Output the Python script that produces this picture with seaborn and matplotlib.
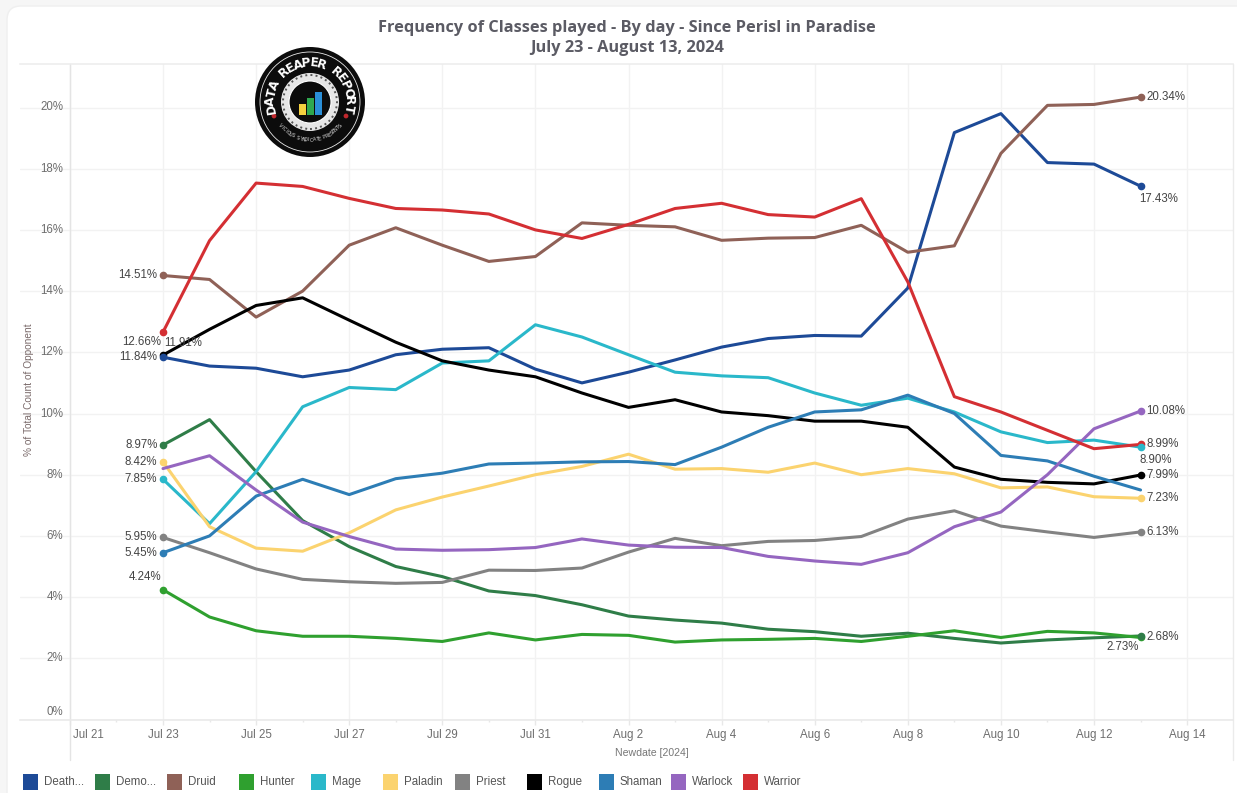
import numpy as np
import pandas as pd
import seaborn as sns
import matplotlib.pyplot as plt
import matplotlib.dates as mdates
from matplotlib.patches import Circle, FancyBboxPatch, Rectangle
from matplotlib.transforms import IdentityTransform

W, H = 1237, 793

days = pd.date_range("2024-07-23", "2024-08-13")

death_knight = [11.84, 11.55, 11.48, 11.2, 11.42, 11.92, 12.1, 12.15, 11.45, 11.0, 11.35, 11.75, 12.17, 12.45, 12.55, 12.53, 14.1, 19.18, 19.8, 18.2, 18.15, 17.43]
demon_hunter = [8.97, 9.8, 8.1, 6.5, 5.65, 5.0, 4.67, 4.2, 4.05, 3.75, 3.38, 3.25, 3.15, 2.95, 2.87, 2.72, 2.82, 2.65, 2.5, 2.6, 2.67, 2.73]
druid = [14.51, 14.38, 13.15, 14.0, 15.5, 16.07, 15.5, 14.97, 15.13, 16.23, 16.15, 16.1, 15.66, 15.73, 15.75, 16.15, 15.27, 15.48, 18.5, 20.07, 20.1, 20.34]
hunter = [4.24, 3.35, 2.9, 2.72, 2.72, 2.65, 2.55, 2.83, 2.6, 2.78, 2.75, 2.53, 2.6, 2.62, 2.65, 2.55, 2.72, 2.9, 2.68, 2.88, 2.83, 2.68]
mage = [7.85, 6.4, 8.1, 10.22, 10.85, 10.78, 11.65, 11.72, 12.9, 12.5, 11.92, 11.35, 11.23, 11.17, 10.67, 10.27, 10.5, 10.05, 9.4, 9.05, 9.13, 8.90]
paladin = [8.42, 6.3, 5.6, 5.5, 6.1, 6.85, 7.27, 7.63, 8.0, 8.27, 8.67, 8.18, 8.2, 8.08, 8.38, 8.0, 8.2, 8.03, 7.57, 7.6, 7.28, 7.23]
priest = [5.95, 5.45, 4.92, 4.58, 4.5, 4.45, 4.48, 4.88, 4.87, 4.95, 5.47, 5.92, 5.68, 5.82, 5.85, 5.98, 6.55, 6.82, 6.32, 6.13, 5.95, 6.13]
rogue = [11.91, 12.75, 13.53, 13.78, 13.05, 12.33, 11.72, 11.42, 11.2, 10.67, 10.2, 10.45, 10.05, 9.93, 9.75, 9.75, 9.55, 8.25, 7.85, 7.75, 7.7, 7.99]
shaman = [5.45, 6.0, 7.3, 7.85, 7.35, 7.87, 8.05, 8.35, 8.38, 8.42, 8.43, 8.33, 8.9, 9.55, 10.05, 10.12, 10.6, 10.0, 8.63, 8.45, 7.95, 7.5]
warlock = [8.2, 8.62, 7.5, 6.45, 5.98, 5.57, 5.53, 5.55, 5.62, 5.9, 5.7, 5.63, 5.62, 5.33, 5.18, 5.07, 5.45, 6.3, 6.78, 8.0, 9.5, 10.08]
warrior = [12.66, 15.65, 17.53, 17.42, 17.03, 16.7, 16.65, 16.52, 16.0, 15.72, 16.18, 16.7, 16.87, 16.5, 16.42, 17.02, 14.3, 10.55, 10.05, 9.45, 8.85, 8.99]

classes = ["Death Knight", "Demon Hunter", "Druid", "Hunter", "Mage", "Paladin", "Priest", "Rogue", "Shaman", "Warlock", "Warrior"]
legend_names = ["Death...", "Demo...", "Druid", "Hunter", "Mage", "Paladin", "Priest", "Rogue", "Shaman", "Warlock", "Warrior"]
series = [death_knight, demon_hunter, druid, hunter, mage, paladin, priest, rogue, shaman, warlock, warrior]
colors = ["#1d4a97", "#2f7d48", "#8f6157", "#2fa02f", "#2ab8ca", "#fbd36f", "#828282", "#000000", "#2d7db5", "#9566c0", "#d42f33"]
palette = dict(zip(classes, colors))

df = pd.concat([pd.DataFrame({"day": days, "pct": v, "cls": c}) for c, v in zip(classes, series)])

# labels at the first and last day: class, text, x offset, y offset, alignment
first_labels = [("Druid", "14.51%", -4, 0, "right"), ("Warrior", "12.66%", -1, -7, "right"),
                ("Rogue", "11.91%", 1, 8.5, "left"), ("Death Knight", "11.84%", -4, 0, "right"),
                ("Demon Hunter", "8.97%", -4, 0, "right"), ("Paladin", "8.42%", -4, 0, "right"),
                ("Mage", "7.85%", -4, 0, "right"), ("Priest", "5.95%", -4, 0, "right"),
                ("Shaman", "5.45%", -4, 0, "right"), ("Hunter", "4.24%", -1, 9, "right")]
last_labels = [("Druid", "20.34%", 4, 0, "left"), ("Death Knight", "17.43%", -1, -9, "left"),
               ("Warlock", "10.08%", 4, 0, "left"), ("Warrior", "8.99%", 4, 0, "left"),
               ("Mage", "8.90%", -1, -9, "left"), ("Rogue", "7.99%", 4, 0, "left"),
               ("Paladin", "7.23%", 4, 0, "left"), ("Priest", "6.13%", 4, 0, "left"),
               ("Hunter", "2.68%", 4, 0, "left"), ("Demon Hunter", "2.73%", -1, -8, "right")]

sns.set_theme(style="white")
plt.rcParams["font.family"] = ["Liberation Sans", "DejaVu Sans"]

fig = plt.figure(figsize=(W / 100, H / 100), dpi=100, facecolor="#f6f6f6")

# white card behind everything, pixel coordinates from the lower left
card = FancyBboxPatch((7, -30), W + 30, H + 24, boxstyle="round,pad=0,rounding_size=14",
                      transform=IdentityTransform(), fc="white", ec="#efefef", lw=1, zorder=-5)
fig.patches.append(card)

ax_left, ax_right, ax_top, ax_bottom = 20, 1233, 64, 719.5
ax = fig.add_axes([ax_left / W, 1 - ax_bottom / H, (ax_right - ax_left) / W, (ax_bottom - ax_top) / H])
ax.patch.set_alpha(0)

sns.lineplot(data=df, x="day", y="pct", hue="cls", palette=palette, hue_order=classes,
             linewidth=2.2, legend=False, ax=ax, zorder=3, errorbar=None)

px_per_day = 46.55
x0 = mdates.date2num(pd.Timestamp("2024-07-23"))
ax.set_xlim(x0 - (163 - ax_left) / px_per_day, x0 + (ax_right - 163) / px_per_day)
ax.set_ylim(0, (ax_bottom - ax_top) / 30.6)
ax.set_xlabel("")
ax.set_ylabel("")

ax.set_yticks(np.arange(0, 21, 2))
ax.set_yticklabels([])
x_ticks = pd.date_range("2024-07-21", "2024-08-14", freq="2D")
ax.set_xticks(x_ticks)
ax.set_xticks(pd.date_range("2024-07-22", "2024-08-13", freq="2D"), minor=True)
ax.set_xticklabels([])
ax.grid(True, color="#f2f2f2", lw=1.0)
ax.set_axisbelow(True)
ax.tick_params(axis="y", length=0)
ax.tick_params(axis="x", which="major", length=3.5, width=1, color="#e8e8e8", bottom=True)
ax.tick_params(axis="x", which="minor", length=1.5, width=1, color="#e8e8e8", bottom=True)
for s in ["left", "right"]:
    ax.spines[s].set_visible(False)
ax.spines["top"].set_color("#ececec")
ax.spines["bottom"].set_color("#e8e8e8")
ax.spines["top"].set_linewidth(1.1)
ax.spines["bottom"].set_linewidth(1.1)

# y axis line starts at Jul 21 and runs down past the x labels, same at the right edge
y_top = (ax_bottom - ax_top) / 30.6
ax.plot([x_ticks[0], x_ticks[0]], [y_top, -1.33], color="#e4e4e4", lw=1.0, clip_on=False, zorder=1)
ax.plot([ax.get_xlim()[1]] * 2, [y_top, -1.33], color="#ebebeb", lw=1.0, clip_on=False, zorder=1)

for v in range(0, 21, 2):
    ypos = v if v > 0 else 0.23
    ax.annotate(f"{v}%", (x_ticks[0], ypos), xytext=(-5, 0), textcoords="offset points",
                ha="right", va="center", fontsize=8.3, color="#6e6e6e")
for d in x_ticks:
    lab = d.strftime("%b ") + str(d.day)
    if d == x_ticks[0]:
        ax.annotate(lab, (d, 0), xytext=(2, -6.5), textcoords="offset points", ha="left", va="top",
                    fontsize=8.3, color="#6e6e6e", annotation_clip=False)
    else:
        ax.annotate(lab, (d, 0), xytext=(0, -6.5), textcoords="offset points", ha="center", va="top",
                    fontsize=8.3, color="#6e6e6e", annotation_clip=False)

# end point markers and value labels
for cls, text, dx, dy, ha in first_labels:
    val = series[classes.index(cls)][0]
    ax.plot(days[0], val, "o", ms=4.5, color=palette[cls], zorder=5)
    ax.annotate(text, (days[0], val), xytext=(dx, dy), textcoords="offset points", ha=ha, va="center",
                fontsize=8.3, color="#444444", zorder=6)
for cls, text, dx, dy, ha in last_labels:
    val = series[classes.index(cls)][-1]
    ax.plot(days[-1], val, "o", ms=4.5, color=palette[cls], zorder=5)
    ax.annotate(text, (days[-1], val), xytext=(dx, dy), textcoords="offset points", ha=ha, va="center",
                fontsize=8.3, color="#444444", zorder=6)

fig.text(29 / W, 1 - 390 / H, "% of Total Count of Opponent", rotation=90, ha="center", va="center",
         fontsize=7.3, color="#7a6a6a")
fig.text(652 / W, 1 - 752.5 / H, "Newdate [2024]", ha="center", va="center", fontsize=7.6, color="#777777")

fig.text(627 / W, 1 - 27.5 / H, "Frequency of Classes played - By day - Since Perisl in Paradise", ha="center", va="center",
         fontsize=11.8, fontweight="bold", family=["Open Sans", "DejaVu Sans"], color="#5b5b64")
fig.text(627 / W, 1 - 48.5 / H, "July 23 - August 13, 2024", ha="center", va="center",
         fontsize=11.8, fontweight="bold", family=["Open Sans", "DejaVu Sans"], color="#5b5b64")

# legend row
for i, (name, col) in enumerate(zip(legend_names, colors)):
    lx = 23 + i * 72
    fig.patches.append(Rectangle((lx / W, 1 - 790 / H), 15 / W, 16 / H, transform=fig.transFigure,
                                 fc=col, ec="none"))
    fig.text((lx + 21) / W, 1 - 782 / H, name, ha="left", va="center", fontsize=8.3, color="#555555")

# logo badge, drawn in its own square axes
logo = fig.add_axes([(310 - 56) / W, 1 - (102 + 56) / H, 112 / W, 112 / H])
logo.set_xlim(-56, 56)
logo.set_ylim(-56, 56)
logo.axis("off")
logo.add_patch(Circle((0, 0), 55, fc="#0c0c0c", ec="none"))
logo.add_patch(Circle((0, 0), 50, fc="none", ec="#e8e8e8", lw=0.6))
logo.add_patch(Circle((0, 0), 29, fc="#e6e6e6", ec="none"))
logo.add_patch(Circle((0, 0), 27, fc="none", ec="#555555", lw=1.4, ls=":"))
logo.add_patch(Circle((0, 0), 21, fc="#0c0c0c", ec="#ffffff", lw=0.8))
word = "DATA REAPER REPORT"
for i, ch in enumerate(word):
    ang = np.deg2rad(190 - i * (200 / (len(word) - 1)))
    logo.text(39 * np.cos(ang), 39 * np.sin(ang), ch, rotation=np.rad2deg(ang) - 90, ha="center", va="center",
              fontsize=8.8, fontweight="bold", color="white", family="DejaVu Sans")
caption = "VICIOUS SYNDICATE PRESENTS"
for i, ch in enumerate(caption):
    ang = np.deg2rad(218 + i * (104 / (len(caption) - 1)))
    logo.text(38 * np.cos(ang), 38 * np.sin(ang), ch, rotation=np.rad2deg(ang) + 90, ha="center", va="center",
              fontsize=3.6, color="#dddddd", family="DejaVu Sans")
for bx, bh, bc in [(-8, 11, "#f4d03f"), (0, 17, "#2fa84f"), (8, 23, "#2a8fd8")]:
    logo.add_patch(Rectangle((bx - 3, -13), 6.5, bh, fc=bc, ec="none"))
logo.add_patch(Circle((-36, -14), 2.4, fc="#c0272d", ec="none"))
logo.add_patch(Circle((36, -14), 2.4, fc="#c0272d", ec="none"))

fig.savefig("out.png", dpi=100, facecolor=fig.get_facecolor())
